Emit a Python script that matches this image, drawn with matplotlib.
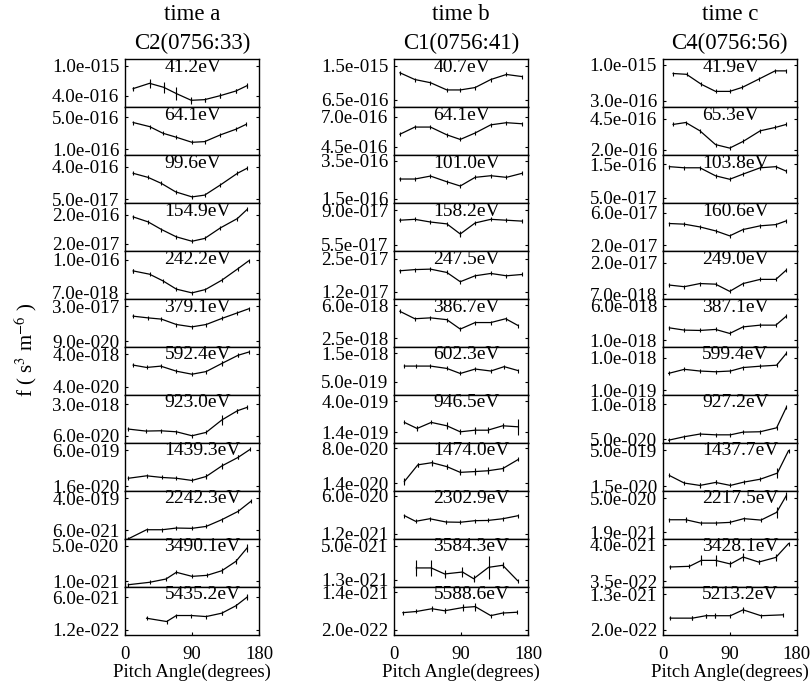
import numpy as np
import matplotlib
matplotlib.use("Agg")
import matplotlib.pyplot as plt
from matplotlib.ticker import NullLocator, FixedLocator

plt.rcParams['font.family'] = ['Liberation Serif', 'DejaVu Serif']
plt.rcParams['mathtext.fontset'] = 'stix'

# ---------------- data ----------------
time_names = ["time a", "time b", "time c"]
spacecraft = ["C2(0756:33)", "C1(0756:41)", "C4(0756:56)"]

energy_a = [41.2, 64.1, 99.6, 154.9, 242.2, 379.1, 592.4, 923.0, 1439.3, 2242.3, 3490.1, 5435.2]
energy_b = [40.7, 64.1, 101.0, 158.2, 247.5, 386.7, 602.3, 946.5, 1474.0, 2302.9, 3584.3, 5588.6]
energy_c = [41.9, 65.3, 103.8, 160.6, 249.0, 387.1, 599.4, 927.2, 1437.7, 2217.5, 3428.1, 5213.2]

ytop_a = ["1.0e-015", "5.0e-016", "4.0e-016", "2.0e-016", "1.0e-016", "3.0e-017",
          "4.0e-018", "3.0e-018", "6.0e-019", "4.0e-019", "5.0e-020", "6.0e-021"]
ybot_a = ["4.0e-016", "1.0e-016", "5.0e-017", "2.0e-017", "7.0e-018", "9.0e-020",
          "4.0e-020", "6.0e-020", "1.6e-020", "6.0e-021", "1.0e-021", "1.2e-022"]
ytop_b = ["1.5e-015", "7.0e-016", "3.5e-016", "9.0e-017", "2.5e-017", "6.0e-018",
          "1.5e-018", "4.0e-019", "8.0e-020", "6.0e-020", "5.0e-021", "1.4e-021"]
ybot_b = ["6.5e-016", "4.5e-016", "1.5e-016", "5.5e-017", "1.2e-017", "2.5e-018",
          "5.0e-019", "1.4e-019", "1.4e-020", "1.2e-021", "1.3e-021", "2.0e-022"]
ytop_c = ["1.0e-015", "4.5e-016", "1.5e-016", "6.0e-017", "2.0e-017", "6.0e-018",
          "1.0e-018", "1.0e-018", "5.0e-019", "5.0e-020", "4.0e-021", "1.3e-021"]
ybot_c = ["3.0e-016", "2.0e-016", "5.0e-017", "2.0e-017", "7.0e-018", "1.0e-018",
          "1.0e-019", "5.0e-020", "1.5e-020", "1.9e-021", "3.5e-022", "2.0e-022"]

angle_a = [
    [11, 33, 52, 69, 89, 107, 128, 149, 164],
    [11, 33, 51, 69, 90, 107, 128, 149, 163],
    [11, 31, 49, 68, 90, 107, 128, 151, 164],
    [11, 31, 49, 69, 90, 107, 128, 151, 164],
    [11, 33, 51, 69, 90, 108, 130, 152, 166],
    [11, 31, 49, 69, 90, 109, 130, 151, 166],
    [11, 29, 48, 69, 90, 109, 130, 152, 166],
    [4.5, 28, 48, 69, 90, 109, 130, 151, 164],
    [4.5, 29, 50, 69, 90, 109, 130, 152, 168],
    [4.5, 29, 50, 69, 90, 109, 130, 152, 169],
    [4.5, 33, 55, 69, 90, 110, 130, 149, 164],
    [29, 56, 69, 89, 109, 130, 149, 164],
]
f_a = [
    [4.96e-16, 5.83e-16, 5.16e-16, 4.26e-16, 3.47e-16, 3.54e-16, 4.0e-16, 4.61e-16, 5.43e-16],
    [3.84e-16, 3.13e-16, 2.24e-16, 1.83e-16, 1.42e-16, 1.47e-16, 2.06e-16, 2.74e-16, 3.52e-16],
    [2.62e-16, 2.02e-16, 1.37e-16, 8.0e-17, 5.8e-17, 6.5e-17, 1.24e-16, 2.62e-16, 3.62e-16],
    [1.66e-16, 1.12e-16, 6.1e-17, 3.4e-17, 2.4e-17, 3.0e-17, 6.9e-17, 1.46e-16, 3.0e-16],
    [4.0e-17, 3.07e-17, 1.79e-17, 9.2e-18, 6.8e-18, 8.9e-18, 1.89e-17, 4.84e-17, 8.97e-17],
    [5.7e-18, 4.3e-18, 3.5e-18, 1.43e-18, 9.7e-19, 1.43e-18, 3.9e-18, 9.9e-18, 1.93e-17],
    [8.8e-19, 6.3e-19, 7.6e-19, 3.7e-19, 2.4e-19, 3.5e-19, 1.11e-18, 3.6e-18, 5.6e-18],
    [1.37e-19, 1.07e-19, 1.11e-19, 9.8e-20, 6.0e-20, 9.1e-20, 4.2e-19, 1.32e-18, 2.0e-18],
    [3.6e-20, 4.6e-20, 3.9e-20, 3.6e-20, 2.9e-20, 4.3e-20, 1.23e-19, 2.9e-19, 6.4e-19],
    [2.0e-21, 6.5e-21, 6.5e-21, 8.1e-21, 7.8e-21, 1.0e-20, 2.4e-20, 7.1e-20, 2.6e-19],
    [6.9e-22, 9.0e-22, 1.29e-21, 2.7e-21, 1.73e-21, 1.93e-21, 3.2e-21, 9.0e-21, 3.9e-20],
    [4.9e-22, 3.3e-22, 6.8e-22, 6.8e-22, 6.0e-22, 9.0e-22, 2.2e-21, 6.2e-21],
]
err_a = [
    [0.04, 0.14, 0.19, 0.21, 0.12, 0.06, 0.07, 0.07, 0.07],
    [], [], [],
    [0.21, 0, 0, 0, 0, 0, 0, 0, 0],
    [],
    [0, 0, 0, 0, 0, 0, 0.39, 0.25, 0],
    [0, 0, 0, 0, 0, 0, 0.93, 0.28, 0.2],
    [0, 0, 0, 0, 0, 0.26, 0.39, 0.22, 0],
    [],
    [0, 0, 0, 0, 0, 0, 0.29, 0.34, 0.55],
    [0, 0, 0, 0, 0, 0.2, 0.27, 0.38],
]

angle_b = [
    [8, 28, 49, 71, 89, 109, 130, 151, 172],
    [8, 28, 49, 71, 89, 109, 130, 151, 172],
    [8, 28, 49, 71, 89, 109, 130, 151, 172],
    [8, 28, 49, 71, 89, 109, 130, 151, 172],
    [8, 28, 49, 71, 89, 109, 130, 151, 172],
    [8, 28, 49, 71, 89, 109, 130, 150, 167],
    [14, 29, 49, 71, 89, 109, 130, 148, 167],
    [14, 31, 50, 71, 89, 109, 126, 146, 167],
    [14, 32, 51, 71, 89, 109, 126, 146, 167],
    [14, 29, 48, 70, 89, 109, 126, 146, 167],
    [30, 50, 68, 92, 107, 127, 146, 166],
    [12, 30, 51, 68, 93, 109, 130, 146, 165],
]
f_b = [
    [1.26e-15, 1.07e-15, 9.9e-16, 8.3e-16, 8.3e-16, 8.8e-16, 1.07e-15, 1.21e-15, 1.15e-15],
    [5.4e-16, 6.0e-16, 6.0e-16, 5.35e-16, 5.0e-16, 5.5e-16, 6.2e-16, 6.4e-16, 6.3e-16],
    [2.33e-16, 2.33e-16, 2.49e-16, 2.19e-16, 1.99e-16, 2.42e-16, 2.51e-16, 2.42e-16, 2.65e-16],
    [7.8e-17, 7.9e-17, 7.6e-17, 7.4e-17, 6.4e-17, 7.5e-17, 7.9e-17, 7.8e-17, 7.7e-17],
    [1.91e-17, 1.96e-17, 1.98e-17, 1.84e-17, 1.50e-17, 1.71e-17, 1.80e-17, 1.71e-17, 1.76e-17],
    [5.1e-18, 4.2e-18, 4.3e-18, 4.1e-18, 3.2e-18, 3.8e-18, 3.8e-18, 4.2e-18, 3.5e-18],
    [9.2e-19, 9.2e-19, 9.2e-19, 8.4e-19, 6.9e-19, 8.2e-19, 7.6e-19, 9.0e-19, 7.7e-19],
    [1.96e-19, 1.60e-19, 1.96e-19, 1.75e-19, 1.43e-19, 1.51e-19, 1.51e-19, 1.75e-19, 1.69e-19],
    [1.52e-20, 3.5e-20, 3.9e-20, 3.2e-20, 2.4e-20, 2.5e-20, 2.6e-20, 2.9e-20, 4.6e-20],
    [7.7e-21, 4.3e-21, 5.6e-21, 4.0e-21, 3.9e-21, 4.6e-21, 4.7e-21, 5.6e-21, 7.7e-21],
    [2.07e-21, 2.07e-21, 1.63e-21, 1.76e-21, 1.35e-21, 2.12e-21, 2.3e-21, 1.25e-21],
    [4.9e-22, 5.2e-22, 6.0e-22, 5.4e-22, 6.4e-22, 6.7e-22, 4.2e-22, 4.8e-22, 5.0e-22],
]
err_b = [
    [], [], [],
    [0, 0, 0, 0, 0.05, 0, 0, 0, 0],
    [], [], [],
    [0, 0.09, 0, 0.12, 0.09, 0.13, 0.11, 0.09, 0.31],
    [0.18, 0.1, 0.16, 0.12, 0.16, 0.2, 0.18, 0.14, 0],
    [],
    [0.37, 0.39, 0.17, 0.2, 0.16, 0.57, 0.13, 0],
    [0, 0, 0.15, 0.13, 0.19, 0.23, 0, 0, 0],
]

angle_c = [
    [14, 32, 52, 71, 90, 107, 129, 151, 166],
    [14, 31, 50, 71, 90, 108, 131, 151, 166],
    [9, 29, 50, 71, 90, 108, 131, 152, 166],
    [9, 29, 50, 71, 90, 108, 131, 152, 166],
    [9, 29, 50, 71, 90, 108, 131, 152, 166],
    [9, 29, 50, 71, 90, 108, 131, 152, 166],
    [8, 29, 50, 71, 91, 108, 131, 153, 166],
    [8, 29, 50, 71, 91, 108, 131, 153, 166],
    [9, 29, 50, 71, 91, 109, 131, 154, 169],
    [9, 31, 51, 71, 90, 109, 132, 153, 166],
    [10, 36, 52, 71, 91, 108, 129, 152, 169],
    [10, 40, 58, 70, 91, 108, 132, 162],
]
f_c = [
    [7.5e-16, 7.3e-16, 5.2e-16, 4.1e-16, 4.1e-16, 4.7e-16, 6.2e-16, 8.2e-16, 8.2e-16],
    [3.9e-16, 4.1e-16, 3.3e-16, 2.3e-16, 2.1e-16, 2.5e-16, 3.3e-16, 3.6e-16, 3.9e-16],
    [1.39e-16, 1.34e-16, 1.34e-16, 1.03e-16, 9.2e-17, 1.09e-16, 1.34e-16, 1.39e-16, 1.20e-16],
    [4.15e-17, 4.06e-17, 3.7e-17, 3.24e-17, 2.74e-17, 3.39e-17, 3.84e-17, 4.0e-17, 4.54e-17],
    [9.5e-18, 9.0e-18, 1.0e-17, 9.8e-18, 7.7e-18, 1.0e-17, 1.15e-17, 1.15e-17, 1.57e-17],
    [1.9e-18, 1.69e-18, 1.66e-18, 1.75e-18, 1.42e-18, 2.0e-18, 2.19e-18, 2.19e-18, 3.5e-18],
    [3.3e-19, 4.4e-19, 3.9e-19, 3.7e-19, 3.9e-19, 5.0e-19, 5.5e-19, 5.9e-19, 1.36e-18],
    [4.7e-20, 6.3e-20, 7.9e-20, 7.4e-20, 7.4e-20, 9.3e-20, 9.6e-20, 1.34e-19, 7.5e-19],
    [4.3e-20, 2.07e-20, 1.65e-20, 2.2e-20, 1.65e-20, 2.27e-20, 3.0e-20, 5.4e-20, 4.7e-19],
    [6.2e-21, 6.2e-21, 4.5e-21, 4.5e-21, 4.8e-21, 6.9e-21, 6.0e-21, 1.26e-20, 6.3e-20],
    [9.1e-22, 9.5e-22, 1.41e-21, 1.41e-21, 1.11e-21, 1.76e-21, 1.26e-21, 1.72e-21, 4.3e-21],
    [3.7e-22, 3.7e-22, 4.2e-22, 4.2e-22, 4.2e-22, 5.7e-22, 4.2e-22, 4.4e-22],
]
err_c = [
    [], [], [], [], [], [], [], [],
    [0, 0, 0.25, 0.21, 0, 0, 0, 0.61, 0],
    [0, 0.25, 0, 0, 0, 0, 0, 0.67, 0.47],
    [0, 0, 0.39, 0.42, 0.25, 0.3, 0.15, 0.25, 0],
    [0, 0.09, 0.11, 0.13, 0, 0.19, 0, 0],
]

# ---------------- layout ----------------
# where the top / bottom y tick sit inside each panel (axes fraction)
tickpos_a = [(0.861, 0.236), (0.785, 0.118), (0.755, 0.077), (0.757, 0.153),
             (0.819, 0.132), (0.847, 0.118), (0.840, 0.167), (0.806, 0.146),
             (0.848, 0.090), (0.847, 0.174), (0.854, 0.111), (0.776, 0.098)]
tickpos_b = [(0.861, 0.146), (0.799, 0.174), (0.874, 0.091), (0.847, 0.132),
             (0.840, 0.146), (0.868, 0.174), (0.861, 0.271), (0.868, 0.215),
             (0.883, 0.159), (0.896, 0.104), (0.854, 0.146), (0.881, 0.098)]
tickpos_c = [(0.875, 0.132), (0.750, 0.104), (0.804, 0.105), (0.799, 0.118),
             (0.750, 0.097), (0.854, 0.139), (0.771, 0.097), (0.806, 0.069),
             (0.848, 0.090), (0.847, 0.139), (0.875, 0.111), (0.846, 0.098)]

W, H = 812, 687
col_left = [125, 394, 662.7]
col_w = 134
top_px = 59
row_h = 47.97

columns = [
    (energy_a, ytop_a, ybot_a, angle_a, f_a, err_a, tickpos_a),
    (energy_b, ytop_b, ybot_b, angle_b, f_b, err_b, tickpos_b),
    (energy_c, ytop_c, ybot_c, angle_c, f_c, err_c, tickpos_c),
]

fig = plt.figure(figsize=(W / 100, H / 100), dpi=100)

for ci, (energy, ytop, ybot, angle, fval, errs, tickpos) in enumerate(columns):
    cx = (col_left[ci] + col_w / 2) / W
    fig.text(cx, 1 - 15 / H, time_names[ci], ha='center', va='center', fontsize=16.5)
    fig.text(cx, 1 - 43 / H, spacecraft[ci], ha='center', va='center', fontsize=16.5)

    for ri in range(12):
        y0 = H - (top_px + (ri + 1) * row_h)
        ax = fig.add_axes([col_left[ci] / W, y0 / H, col_w / W, row_h / H])
        ax.set_yscale('log')

        tt, tb = float(ytop[ri]), float(ybot[ri])
        ft, fb = tickpos[ri]
        lt, lb = np.log10(tt), np.log10(tb)
        span = (lt - lb) / (ft - fb)
        lo = lb - fb * span
        ax.set_ylim(10 ** lo, 10 ** (lo + span))
        ax.set_xlim(0, 180)

        x = np.array(angle[ri], dtype=float)
        y = np.array(fval[ri])
        ax.plot(x, y, color='k', lw=0.9, marker='|', ms=3.5, mew=0.8)
        e = errs[ri]
        for xi, yi, ei in zip(x, y, e):
            if ei > 0:
                ax.vlines(xi, yi / (1 + ei), yi * (1 + ei), color='k', lw=0.8)

        ax.text(0.295, 0.83, f"{energy[ri]:.1f}eV", transform=ax.transAxes,
                ha='left', va='center', fontsize=14)

        ax.yaxis.set_major_locator(FixedLocator([tb, tt]))
        ax.yaxis.set_minor_locator(NullLocator())
        ax.set_yticklabels([ybot[ri], ytop[ri]])
        ax.tick_params(axis='y', which='major', direction='in', length=2.5,
                       width=0.8, left=True, right=True, labelsize=13.7, pad=4)

        if ri == 11:
            ax.set_xticks([0, 90, 180])
            ax.set_xticklabels(["0", "90", "180"])
            ax.tick_params(axis='x', direction='in', length=2.5, width=0.8,
                           labelsize=13.5, pad=8)
            ax.set_xlabel("Pitch Angle(degrees)", fontsize=13.5, labelpad=1)
        else:
            ax.set_xticks([])
        ax.xaxis.set_minor_locator(NullLocator())
        for sp in ax.spines.values():
            sp.set_linewidth(1.0)

fig.text(26 / W, 1 - 350 / H, r"f ( s$^{3}$ m$^{-6}$ )", rotation=90,
         ha='center', va='center', fontsize=15)

fig.savefig("out.png", dpi=100)
